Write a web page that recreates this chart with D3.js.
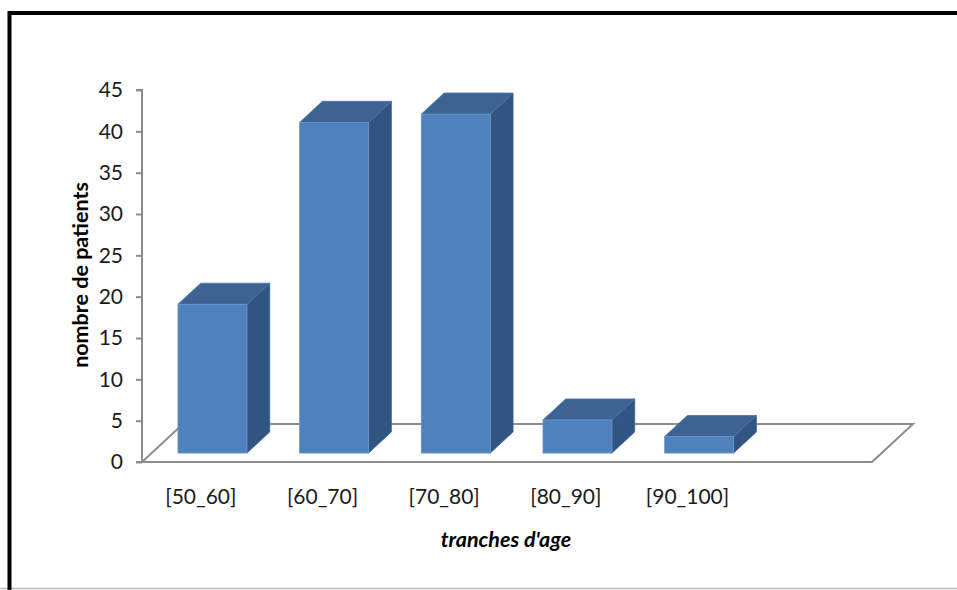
<!DOCTYPE html>
<html>
<head>
<meta charset="utf-8">
<script src="https://cdn.jsdelivr.net/npm/d3@7"></script>
<style>
  html, body { margin: 0; padding: 0; background: #fff; }
  svg { display: block; }
</style>
</head>
<body>
<svg id="chart" width="957" height="590"></svg>
<script>
// Age groups and patient counts
const categories = ["[50_60]", "[60_70]", "[70_80]", "[80_90]", "[90_100]"];
const patients = [18, 40, 41, 4, 2];
const yTicks = [0, 5, 10, 15, 20, 25, 30, 35, 40, 45];
const xTitle = "tranches d'age";
const yTitle = "nombre de patients";

(function draw() {
  const svg = d3.select("#chart");
  const W = 957, H = 590;
  const font = "Lato, 'Open Sans', sans-serif";

  // frame
  svg.append("line").attr("x1", 0).attr("x2", W).attr("y1", 588.5).attr("y2", 588.5)
    .attr("stroke", "#bdbdbd").attr("stroke-width", 1.5);
  svg.append("path").attr("d", `M9.5,${H} V13 H${W}`)
    .attr("fill", "none").attr("stroke", "#000").attr("stroke-width", 4);

  // plot geometry (front plane + depth vector of the floor)
  const plotL = 142, plotR = 872, plotB = 462, plotT = 90;
  const depth = { dx: 41, dy: -38 };
  const barFront = 0.235, barBack = 0.79;

  // 6 slots on the category axis; the last one is empty
  const slots = categories.concat([""]);
  const x = d3.scaleBand().domain(slots).range([plotL, plotR]).paddingInner(0).paddingOuter(0);
  const y = d3.scaleLinear().domain([0, 45]).range([plotB, plotT]);

  // floor
  const floorPts = [
    [plotL, plotB], [plotR, plotB],
    [plotR + depth.dx, plotB + depth.dy], [plotL + depth.dx, plotB + depth.dy]
  ];
  svg.append("polygon").attr("points", floorPts.map(p => p.join(",")).join(" "))
    .attr("fill", "none").attr("stroke", "#8c8c8c").attr("stroke-width", 2)
    .attr("stroke-linejoin", "miter");

  // y axis
  const yAxis = d3.axisLeft(y).tickValues(yTicks).tickSize(6).tickPadding(13);
  const gy = svg.append("g").attr("transform", `translate(${plotL},0)`).call(yAxis);
  gy.select(".domain").attr("stroke", "#8c8c8c").attr("stroke-width", 2)
    .attr("d", `M-6,${plotT}H0V${plotB}H-6`);
  gy.selectAll(".tick line").attr("stroke", "#8c8c8c").attr("stroke-width", 2);
  gy.selectAll(".tick text").attr("fill", "#1a1a1a")
    .style("font-family", font).style("font-size", "21px");

  // bars (3D prisms)
  const barW = 69;
  const fdx = barFront * depth.dx, fdy = barFront * depth.dy;
  const bdx = (barBack - barFront) * depth.dx, bdy = (barBack - barFront) * depth.dy;
  const baseY = plotB + fdy;

  const bars = svg.append("g").selectAll("g").data(categories.map((c, i) => ({ c, v: patients[i] })))
    .join("g");

  bars.each(function(d) {
    const g = d3.select(this);
    const cx = x(d.c) + x.bandwidth() / 2 + fdx;
    const x0 = cx - barW / 2, x1 = cx + barW / 2;
    const h = plotB - y(d.v);
    const y0 = baseY - h;
    // side face
    g.append("polygon")
      .attr("points", [[x1, baseY], [x1 + bdx, baseY + bdy], [x1 + bdx, y0 + bdy], [x1, y0]].map(p => p.join(",")).join(" "))
      .attr("fill", "#325481").attr("stroke", "#3f6596").attr("stroke-width", 0.8);
    // top face
    g.append("polygon")
      .attr("points", [[x0, y0], [x1, y0], [x1 + bdx, y0 + bdy], [x0 + bdx, y0 + bdy]].map(p => p.join(",")).join(" "))
      .attr("fill", "#3c6391").attr("stroke", "#4a74a8").attr("stroke-width", 0.8);
    // front face
    g.append("rect").attr("x", x0).attr("y", y0).attr("width", barW).attr("height", h)
      .attr("fill", "#4f81bd").attr("stroke", "#6b97cc").attr("stroke-width", 0.8);
  });

  // category labels
  svg.append("g").selectAll("text").data(categories).join("text")
    .attr("x", d => x(d) + x.bandwidth() / 2 - 2)
    .attr("y", 504)
    .attr("text-anchor", "middle")
    .attr("fill", "#1a1a1a")
    .style("font-family", font).style("font-size", "21px")
    .text(d => d);

  // axis titles
  svg.append("text").attr("x", 506).attr("y", 547).attr("text-anchor", "middle")
    .attr("fill", "#000")
    .style("font-family", font).style("font-size", "21.5px")
    .style("font-weight", "bold").style("font-style", "italic")
    .text(xTitle);

  svg.append("text").attr("transform", "translate(88,275) rotate(-90)")
    .attr("text-anchor", "middle").attr("fill", "#000")
    .style("font-family", font).style("font-size", "21.5px")
    .style("font-weight", "bold")
    .text(yTitle);
})();
</script>
</body>
</html>
